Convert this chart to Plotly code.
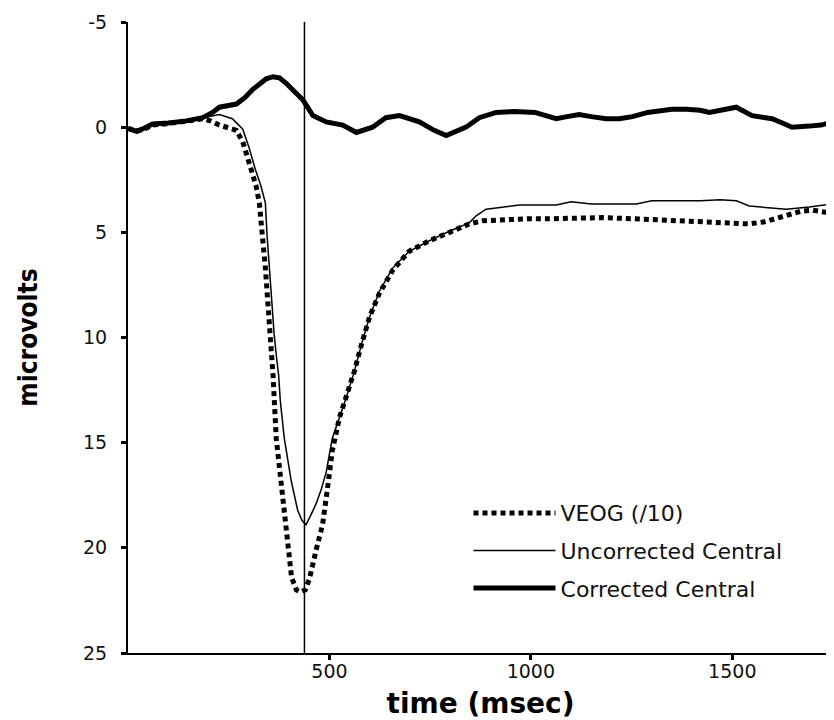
import plotly.graph_objects as go

# ---- data ----
t_veog = [0, 20, 40, 60, 90, 120, 150, 185, 205, 227,
          244, 269, 285, 293, 309, 318, 326, 334, 341, 347,
          353, 360, 368, 381, 393, 406, 418, 428, 440, 450,
          467, 483, 495, 507, 525, 541, 562, 580, 600, 624,
          657, 698, 748, 798, 847, 880, 930, 1000, 1054, 1120,
          1178, 1250, 1320, 1386, 1450, 1510, 1542, 1580, 1634, 1670,
          1700, 1750]
v_veog = [0.05, 0.2, 0.1, -0.1, -0.15, -0.2, -0.3, -0.4, -0.3, -0.1,
          0.0, 0.15, 0.7, 1.2, 2.1, 2.8, 3.6, 5.1, 6.7, 8.3,
          9.9, 11.8, 14.8, 17.2, 19.5, 21.4, 22.0, 22.1, 22.0, 21.5,
          20.1, 18.9, 17.2, 15.4, 13.8, 12.9, 11.6, 10.3, 9.0, 7.9,
          6.8, 5.9, 5.4, 5.0, 4.6, 4.45, 4.4, 4.35, 4.35, 4.3,
          4.3, 4.35, 4.4, 4.5, 4.5, 4.55, 4.6, 4.5, 4.2, 4.0,
          3.95, 4.1]

t_unc = [0, 20, 40, 60, 90, 120, 150, 185, 215, 227,
         259, 285, 301, 316, 330, 341, 345, 351, 356, 363,
         369, 374, 378, 388, 405, 421, 432, 442, 455, 467,
         480, 492, 507, 525, 541, 562, 580, 600, 624, 657,
         698, 748, 798, 847, 865, 889, 930, 971, 1020, 1063,
         1100, 1150, 1200, 1262, 1300, 1350, 1420, 1470, 1510, 1542,
         1600, 1634, 1691, 1750]
v_unc = [0.05, 0.2, 0.1, -0.1, -0.15, -0.2, -0.3, -0.45, -0.55, -0.6,
         -0.4, 0.1, 1.0, 2.0, 2.8, 3.6, 5.1, 6.7, 8.3, 9.9,
         11.0, 11.8, 13.0, 14.8, 16.8, 18.2, 18.7, 18.9, 18.4, 17.9,
         17.2, 16.4, 14.8, 13.8, 12.9, 11.6, 10.3, 9.0, 7.8, 6.7,
         5.9, 5.4, 4.95, 4.55, 4.2, 3.9, 3.8, 3.7, 3.7, 3.7,
         3.55, 3.65, 3.65, 3.65, 3.5, 3.5, 3.5, 3.45, 3.5, 3.75,
         3.85, 3.9, 3.8, 3.65]

t_cor = [0, 21, 40, 61, 100, 145, 185, 210, 227, 250,
         269, 290, 310, 330, 343, 360, 376, 392, 409, 434,
         459, 492, 533, 567, 607, 640, 674, 723, 760, 790,
         839, 872, 914, 960, 1010, 1063, 1090, 1120, 1150, 1187,
         1220, 1252, 1290, 1319, 1350, 1386, 1420, 1443, 1480, 1510,
         1549, 1599, 1630, 1648, 1691, 1720, 1750]
v_cor = [0.05, 0.2, 0.05, -0.15, -0.2, -0.3, -0.45, -0.7, -0.95, -1.05,
         -1.1, -1.4, -1.8, -2.1, -2.3, -2.4, -2.35, -2.1, -1.8, -1.3,
         -0.55, -0.25, -0.1, 0.25, 0.0, -0.45, -0.55, -0.25, 0.15, 0.4,
         0.0, -0.45, -0.7, -0.75, -0.7, -0.4, -0.5, -0.6, -0.5, -0.4,
         -0.4, -0.5, -0.7, -0.8, -0.85, -0.85, -0.8, -0.7, -0.85, -0.95,
         -0.55, -0.4, -0.15, 0.0, -0.05, -0.1, -0.25]

marker_time = 438
x_ticks = [500, 1000, 1500]
y_ticks = [-5, 0, 5, 10, 15, 20, 25]

fig = go.Figure()
fig.add_trace(go.Scatter(x=t_veog, y=v_veog, mode="lines", name="VEOG (/10)",
                         legendgroup="a",
                         line=dict(color="black", width=5, dash="5px,4px")))
fig.add_trace(go.Scatter(x=t_unc, y=v_unc, mode="lines", name="Uncorrected Central",
                         legendgroup="b",
                         line=dict(color="black", width=1.5)))
fig.add_trace(go.Scatter(x=t_cor, y=v_cor, mode="lines", name="Corrected Central",
                         legendgroup="c",
                         line=dict(color="black", width=5)))

fig.add_shape(type="line", xref="x", yref="y", x0=marker_time, x1=marker_time,
              y0=-5, y1=25, line=dict(color="black", width=1.5))

tickfont = dict(family="DejaVu Sans, sans-serif", size=19, color="#111")
fig.update_layout(
    width=834, height=720,
    margin=dict(l=120, r=9, t=14, b=75),
    plot_bgcolor="white", paper_bgcolor="white",
    showlegend=True,
    legend=dict(x=0.483, y=0.255, xanchor="left", yanchor="top",
                bgcolor="rgba(0,0,0,0)",
                font=dict(family="DejaVu Sans, sans-serif", size=22, color="#111"),
                tracegroupgap=6, itemwidth=82),
)
fig.update_xaxes(range=[0, 1750], tickvals=x_ticks, ticktext=[str(v) for v in x_ticks],
                 showline=True, linewidth=2, linecolor="black", showgrid=False,
                 zeroline=False, ticks="outside", ticklen=5, tickwidth=3,
                 tickcolor="black", tickfont=tickfont, ticklabelstandoff=-5,
                 automargin=False,
                 title=dict(text="time (msec)", standoff=13,
                            font=dict(family="DejaVu Sans, sans-serif", size=28,
                                      color="black", weight="bold")))
fig.update_yaxes(range=[25, -5], tickvals=y_ticks, ticktext=[str(v) for v in y_ticks],
                 showline=True, linewidth=2, linecolor="black", showgrid=False,
                 zeroline=False, ticks="outside", ticklen=5, tickwidth=3,
                 tickcolor="black", tickfont=tickfont, ticklabelstandoff=10,
                 automargin=False,
                 title=dict(text="microvolts", standoff=38,
                            font=dict(family="Liberation Sans Narrow, DejaVu Sans Condensed, Liberation Sans, sans-serif",
                                      size=26, color="black", weight="bold")))

fig.write_html("out.html")
